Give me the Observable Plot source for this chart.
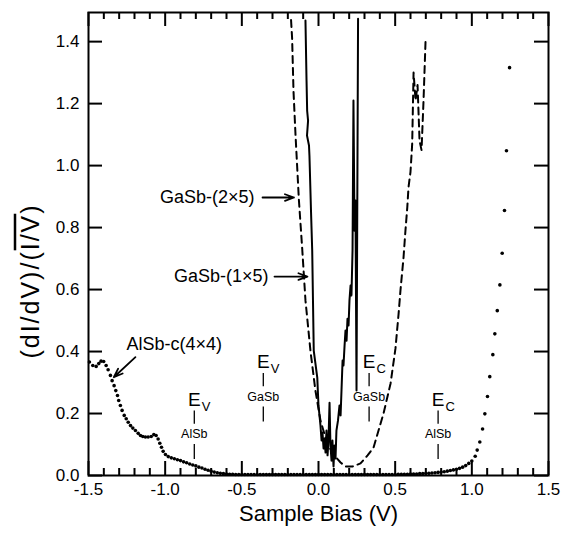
<!DOCTYPE html>
<html>
<head>
<meta charset="utf-8">
<script src="https://cdn.jsdelivr.net/npm/d3@7"></script>
<script src="https://cdn.jsdelivr.net/npm/@observablehq/plot@0.6"></script>
<style>
  html, body { margin: 0; padding: 0; background: #fff; }
  #chart { width: 564px; height: 534px; }
</style>
</head>
<body>
<div id="chart"></div>
<script>
// ---------------- DATA ----------------
// AlSb-c(4x4) : sample bias (V) and normalized conductance (dots)
const alsbBias = [
  -1.494,-1.472,-1.450,-1.433,-1.418,-1.401,-1.385,-1.372,-1.357,-1.346,-1.333,-1.322,
  -1.311,-1.303,-1.292,-1.281,-1.267,-1.254,-1.241,-1.226,-1.211,-1.194,-1.176,-1.161,
  -1.146,-1.129,-1.111,-1.091,-1.074,-1.059,-1.046,-1.035,-1.024,-1.013,-0.998,-0.980,
  -0.96,-0.94,-0.92,-0.90,-0.88,-0.86,-0.84,-0.82,-0.80,-0.78,-0.76,-0.74,-0.72,-0.70,
  -0.68,-0.66,-0.64,-0.62,-0.60,-0.58,-0.56,-0.54,-0.52,-0.50,
  -0.48,-0.46,-0.44,-0.42,-0.40,-0.38,-0.36,-0.34,-0.32,-0.30,-0.28,-0.26,-0.24,-0.22,
  -0.20,-0.18,-0.16,-0.14,-0.12,-0.10,-0.08,-0.06,-0.04,-0.02,0.00,0.02,0.04,0.06,0.08,
  0.10,0.12,0.14,0.16,0.18,0.20,0.22,0.24,0.26,0.28,0.30,0.32,0.34,0.36,0.38,0.40,0.42,
  0.44,0.46,0.48,0.50,
  0.52,0.54,0.56,0.58,0.60,0.62,0.64,0.66,0.68,0.70,0.72,0.74,0.76,0.78,0.80,0.82,0.84,
  0.86,0.88,0.90,0.92,0.94,0.96,0.98,1.00,
  1.022,1.035,1.052,1.070,1.085,1.102,1.117,1.137,1.150,1.166,1.183,1.198,1.213,1.226,1.246
];
const alsbRatio = [
  0.366,0.355,0.352,0.361,0.369,0.368,0.355,0.341,0.323,0.306,0.290,0.274,
  0.258,0.242,0.226,0.210,0.194,0.183,0.172,0.161,0.153,0.145,0.136,0.129,
  0.126,0.124,0.124,0.126,0.132,0.129,0.118,0.104,0.091,0.078,0.068,0.061,
  0.057,0.054,0.051,0.048,0.044,0.041,0.037,0.034,0.031,0.027,0.024,0.020,0.017,0.014,
  0.011,0.009,0.007,0.006,0.005,0.004,0.004,0.003,0.003,0.003,
  0.003,0.003,0.003,0.003,0.003,0.003,0.003,0.003,0.003,0.003,0.003,0.003,0.003,0.003,
  0.003,0.003,0.003,0.003,0.003,0.003,0.003,0.003,0.003,0.003,0.003,0.003,0.003,0.003,0.003,
  0.003,0.003,0.003,0.003,0.003,0.003,0.003,0.003,0.003,0.003,0.003,0.003,0.003,0.003,0.003,0.003,0.003,
  0.003,0.003,0.003,0.003,
  0.004,0.004,0.004,0.004,0.005,0.005,0.005,0.006,0.006,0.007,0.007,0.008,0.009,0.010,0.011,0.012,0.014,
  0.016,0.018,0.020,0.023,0.027,0.032,0.039,0.047,
  0.062,0.082,0.108,0.150,0.199,0.255,0.319,0.390,0.457,0.532,0.615,0.717,0.855,1.048,1.316
];

// GaSb-(1x5) : solid line
const gasb1x5Bias = [
  -0.085,-0.078,-0.074,-0.068,-0.075,-0.062,-0.059,-0.049,-0.041,-0.036,-0.031,-0.008,-0.003,
  0.000,0.013,0.020,0.026,0.033,0.039,0.046,0.052,0.059,0.065,0.072,0.078,0.085,0.091,0.098,
  0.104,0.111,0.117,0.127,0.137,0.144,0.150,0.157,0.163,0.170,0.176,0.183,0.189,0.196,0.202,
  0.209,0.215,0.222,0.228,0.235,0.241,0.248,0.258
];
const gasb1x5Ratio = [
  1.468,1.274,1.177,1.145,1.097,1.065,1.032,0.855,0.726,0.565,0.403,0.316,0.258,
  0.226,0.161,0.113,0.139,0.087,0.119,0.074,0.145,0.065,0.113,0.235,0.097,0.048,0.113,0.029,
  0.097,0.055,0.145,0.177,0.226,0.194,0.274,0.371,0.355,0.419,0.468,0.435,0.506,0.484,0.565,
  0.613,0.581,0.726,1.210,0.790,0.887,0.274,1.474
];

// GaSb-(2x5) : dashed line
const gasb2x5Bias = [
  -0.179,-0.172,-0.163,-0.150,-0.128,-0.106,-0.085,-0.052,-0.020,0.013,0.057,0.098,0.144,
  0.176,0.222,0.274,0.320,0.359,0.424,0.470,0.502,0.522,0.535,0.554,0.567,0.579,0.587,
  0.600,0.611,0.620,0.633,0.646,0.659,0.672,0.685,0.698
];
const gasb2x5Ratio = [
  1.470,1.410,1.240,1.100,0.890,0.730,0.565,0.400,0.274,0.177,0.103,0.068,0.042,
  0.029,0.029,0.039,0.065,0.090,0.200,0.297,0.410,0.520,0.600,0.700,0.790,0.865,0.930,
  0.980,1.070,1.300,1.210,1.260,1.080,1.050,1.210,1.400
];

// Band edges
const bandEdgeMaterial = ["AlSb", "GaSb", "GaSb", "AlSb"];
const bandEdgeKind = ["V", "V", "C", "C"];
const bandEdgeBias = [-0.81, -0.36, 0.33, 0.78];

// Curve names
const curveNames = ["GaSb-(2×5)", "GaSb-(1×5)", "AlSb-c(4×4)"];

// Axes
const xMajorTicks = [-1.5, -1.0, -0.5, 0.0, 0.5, 1.0, 1.5];
const xMinorTicks = [-1.4,-1.3,-1.2,-1.1,-0.9,-0.8,-0.7,-0.6,-0.4,-0.3,-0.2,-0.1,
                     0.1,0.2,0.3,0.4,0.6,0.7,0.8,0.9,1.1,1.2,1.3,1.4];
const yTicks = [0.0, 0.2, 0.4, 0.6, 0.8, 1.0, 1.2, 1.4];
const xTitle = "Sample Bias (V)";

// ---------------- LAYOUT (annotation placement, data units) ----------------
const edgeLabelLevel = {AlSb: 0.245, GaSb: 0.366};
const curveLabelPlace = [
  {x: -0.417, y: 0.897, anchor: "end",   ax1: -0.365, ay1: 0.897, ax2: -0.160, ay2: 0.897},
  {x: -0.326, y: 0.642, anchor: "end",   ax1: -0.287, ay1: 0.642, ax2: -0.072, ay2: 0.642},
  {x: -1.252, y: 0.423, anchor: "start", ax1: -1.194, ay1: 0.382, ax2: -1.335, ay2: 0.317}
];

// ---------------- BUILD ----------------
const zipXY = (xs, ys) => xs.map((b, i) => ({bias: b, ratio: ys[i]}));
const alsb = zipXY(alsbBias, alsbRatio);
const gasb1 = zipXY(gasb1x5Bias, gasb1x5Ratio);
const gasb2 = zipXY(gasb2x5Bias, gasb2x5Ratio);
const edges = bandEdgeBias.map((b, i) => ({
  bias: b, kind: bandEdgeKind[i], material: bandEdgeMaterial[i],
  level: edgeLabelLevel[bandEdgeMaterial[i]]
}));
const labels = curveNames.map((t, i) => ({text: t, ...curveLabelPlace[i]}));

const W = 564, H = 534, mL = 88, mR = 16, mT = 12, mB = 59;
const fw = W - mL - mR, fh = H - mT - mB;
const majorLen = 14, minorLen = 7;
const fmt = d => d.toFixed(1);
const font = "'Liberation Sans', Arial, Helvetica, sans-serif";

const plot = Plot.plot({
  width: W, height: H,
  marginLeft: mL, marginRight: mR, marginTop: mT, marginBottom: mB,
  x: {domain: [-1.5, 1.5], axis: null},
  y: {domain: [0, 1.494], axis: null},
  style: {fontFamily: font, color: "black", background: "white", overflow: "visible"},
  marks: [
    // curves
    Plot.line(gasb2, {x: "bias", y: "ratio", stroke: "black", strokeWidth: 2, strokeDasharray: "7,5"}),
    Plot.line(gasb1, {x: "bias", y: "ratio", stroke: "black", strokeWidth: 2, strokeLinejoin: "round"}),
    Plot.dot(alsb, {x: "bias", y: "ratio", r: 1.8, fill: "black", stroke: null}),
    // ticks (inward, mirrored)
    Plot.tickX(xMajorTicks, {x: d => d, insetTop: fh - majorLen, strokeWidth: 2}),
    Plot.tickX(xMinorTicks, {x: d => d, insetTop: fh - minorLen, strokeWidth: 2}),
    Plot.tickX(xMajorTicks, {x: d => d, insetBottom: fh - majorLen, strokeWidth: 2}),
    Plot.tickX(xMinorTicks, {x: d => d, insetBottom: fh - minorLen, strokeWidth: 2}),
    Plot.tickY(yTicks, {y: d => d, insetRight: fw - majorLen, strokeWidth: 2}),
    Plot.tickY(yTicks, {y: d => d, insetLeft: fw - majorLen, strokeWidth: 2}),
    // tick labels
    Plot.axisX(xMajorTicks, {anchor: "bottom", tickSize: 0, tickPadding: 7, tickFormat: fmt, fontSize: 17, label: null}),
    Plot.axisY(yTicks, {anchor: "left", tickSize: 0, tickPadding: 9, tickFormat: fmt, fontSize: 17, label: null}),
    Plot.frame({stroke: "black", strokeWidth: 2}),
    // x title
    Plot.text([xTitle], {text: d => d, frameAnchor: "bottom", dy: 38, fontSize: 22, lineAnchor: "middle"}),
    // curve labels + arrows
    Plot.text(labels.filter(d => d.anchor === "end"), {x: "x", y: "y", text: "text", textAnchor: "end", fontSize: 18, lineAnchor: "middle"}),
    Plot.text(labels.filter(d => d.anchor === "start"), {x: "x", y: "y", text: "text", textAnchor: "start", fontSize: 18, lineAnchor: "middle"}),
    Plot.arrow(labels, {x1: "ax1", y1: "ay1", x2: "ax2", y2: "ay2", stroke: "black", strokeWidth: 1.8, headLength: 8, headAngle: 40}),
    // band edge markers
    Plot.text(edges, {x: "bias", y: "level", text: () => "E", fontSize: 19, lineAnchor: "middle"}),
    Plot.text(edges, {x: "bias", y: "level", text: "kind", fontSize: 13, dx: 7.5, dy: 7, textAnchor: "start", lineAnchor: "middle"}),
    Plot.ruleX(edges, {x: "bias", y1: d => d.level - 0.037, y2: d => d.level - 0.080, strokeWidth: 1.3}),
    Plot.text(edges, {x: "bias", y: d => d.level - 0.112, text: "material", fontSize: 12.5, lineAnchor: "middle"}),
    Plot.ruleX(edges, {x: "bias", y1: d => d.level - 0.145, y2: d => d.level - 0.193, strokeWidth: 1.3})
  ]
});

// y-axis title with overline
const svg = d3.select(plot);
const yt = svg.append("text")
  .attr("transform", "translate(30,281) rotate(-90)")
  .attr("text-anchor", "middle")
  .attr("dy", "0.35em")
  .attr("font-family", font)
  .attr("font-size", 25)
  .attr("letter-spacing", 2)
  .attr("fill", "black");
yt.append("tspan").text("(dI/dV)/(");
yt.append("tspan").style("text-decoration", "overline").text("I/V");
yt.append("tspan").text(")");

document.getElementById("chart").appendChild(plot);
</script>
</body>
</html>
